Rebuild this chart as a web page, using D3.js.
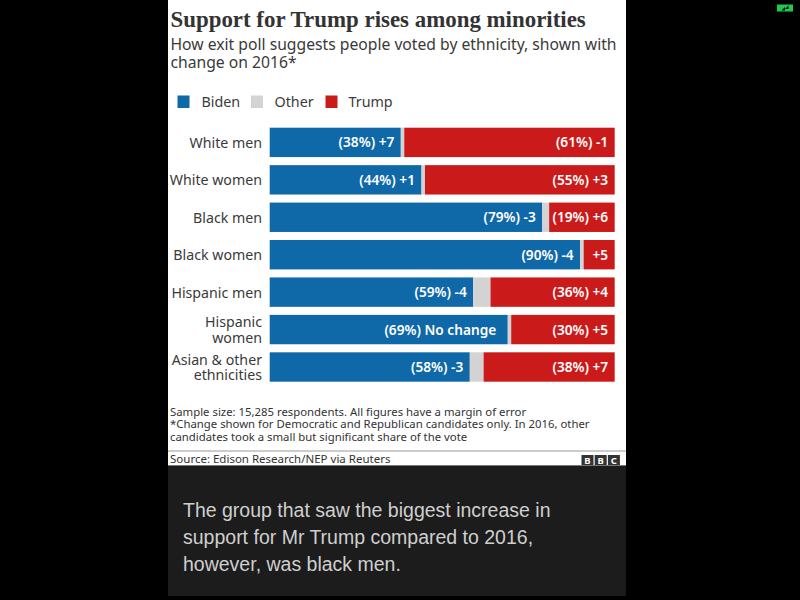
<!DOCTYPE html>
<html>
<head>
<meta charset="utf-8">
<style>
html,body{margin:0;padding:0;background:#000;}
svg{display:block;}
text{font-family:"Noto Sans",sans-serif;}
</style>
<script src="https://cdn.jsdelivr.net/npm/d3@7"></script>
</head>
<body>
<svg id="c" width="800" height="600"></svg>
<script>
const categories = [["White men"],["White women"],["Black men"],["Black women"],["Hispanic men"],["Hispanic","women"],["Asian & other","ethnicities"]];
const biden = [38,44,79,90,59,69,58];
const other = [1,1,2,1,5,1,4];
const trump = [61,55,19,9,36,30,38];
const bidenLabels = ["(38%) +7","(44%) +1","(79%) -3","(90%) -4","(59%) -4","(69%) No change","(58%) -3"];
const trumpLabels = ["(61%) -1","(55%) +3","(19%) +6","+5","(36%) +4","(30%) +5","(38%) +7"];
const seriesNames = ["Biden","Other","Trump"];
const seriesColors = ["#0f68a8","#d3d3d3","#cb1a1a"];
const subtitleLines = ["How exit poll suggests people voted by ethnicity, shown with","change on 2016*"];
const noteLines = ["Sample size: 15,285 respondents. All figures have a margin of error","*Change shown for Democratic and Republican candidates only. In 2016, other","candidates took a small but significant share of the vote"];
const captionLines = ["The group that saw the biggest increase in","support for Mr Trump compared to 2016,","however, was black men."];

const svg = d3.select("#c");
const ink = "#3a3a3a";
function block(xp, yp, lines, lh){
  const t = svg.append("text").attr("x",xp).attr("y",yp);
  t.selectAll("tspan").data(lines).join("tspan").attr("x",xp).attr("y",(d,i)=>yp+i*lh).text(d=>d);
  return t;
}
svg.append("rect").attr("x",168).attr("y",0).attr("width",458).attr("height",466).attr("fill","#fff");
svg.append("rect").attr("x",168).attr("y",466).attr("width",458).attr("height",130).attr("fill","#1c1c1c");

svg.append("text").attr("x",170.5).attr("y",26.5).attr("fill","#333")
  .style("font-family","'Liberation Serif',serif").style("font-weight",700).style("font-size","22.9px")
  .text("Support for Trump rises among minorities");
block(170.5,50,subtitleLines,17.5).attr("fill",ink).style("font-size","15.7px");

// legend
const lx = [177.5,251,325.5], ltx=[201.5,274.5,348.5];
seriesNames.forEach((n,i)=>{
  svg.append("rect").attr("x",lx[i]).attr("y",95.5).attr("width",12).attr("height",12.5).attr("fill",seriesColors[i]);
  svg.append("text").attr("x",ltx[i]).attr("y",107).attr("fill",ink).style("font-size","14.3px").text(n);
});

// chart
const rows = categories.map((c,i)=>({i,Biden:biden[i],Other:other[i],Trump:trump[i]}));
const x = d3.scaleLinear().domain([0,100]).range([269.7,614.7]);
const y = d3.scaleBand().domain(d3.range(categories.length)).range([127.7,381.7]).paddingInner(0.215).paddingOuter(0);
const stacked = d3.stack().keys(seriesNames)(rows);
svg.selectAll(".s").data(stacked).join("g").attr("class","s").attr("fill",(d,i)=>seriesColors[i])
  .selectAll("rect").data(d=>d).join("rect")
  .attr("x",d=>x(d[0])).attr("width",d=>x(d[1])-x(d[0]))
  .attr("y",d=>y(d.data.i)).attr("height",y.bandwidth());

const inset = 6.5;
rows.forEach((r,i)=>{
  const cy = y(i)+y.bandwidth()/2;
  const bi = bidenLabels[i].includes("No change") ? 11.5 : inset;
  svg.append("text").attr("x",x(r.Biden)-bi).attr("y",cy+5).attr("text-anchor","end")
    .attr("fill","#fff").style("font-size","13.7px").style("font-weight",600).text(bidenLabels[i]);
  svg.append("text").attr("x",x(100)-inset).attr("y",cy+5).attr("text-anchor","end")
    .attr("fill","#fff").style("font-size","13.7px").style("font-weight",600).text(trumpLabels[i]);
  const lines = categories[i];
  block(262, cy+5.5-(lines.length-1)/2*15.2, lines, 15.2)
    .attr("text-anchor","end").attr("fill",ink).style("font-size","14.2px");
});

// notes
block(170,416,noteLines,12.4).attr("fill","#333").style("font-size","11.35px");
svg.append("line").attr("x1",168).attr("x2",626).attr("y1",451).attr("y2",451).attr("stroke","#999").attr("stroke-width",1);
svg.append("text").attr("x",170).attr("y",463).attr("fill","#333").style("font-size","11.5px").text("Source: Edison Research/NEP via Reuters");
svg.append("line").attr("x1",168).attr("x2",626).attr("y1",465.5).attr("y2",465.5).attr("stroke","#777").attr("stroke-width",1);

// BBC blocks
["B","B","C"].forEach((l,i)=>{
  const bx = 581.5+i*13.2;
  svg.append("rect").attr("x",bx).attr("y",455).attr("width",12).attr("height",10).attr("fill","#333");
  svg.append("text").attr("x",bx+6).attr("y",463.5).attr("text-anchor","middle").attr("fill","#fff")
    .style("font-size","9.5px").style("font-weight",700).text(l);
});

// caption
block(183,517,captionLines,27).attr("fill","#cfcfcf")
  .style("font-family","'Liberation Sans',sans-serif").style("font-size","19.5px");

// status icon
svg.append("rect").attr("x",777).attr("y",4.5).attr("width",16).attr("height",7).attr("fill","#1fc94f");
svg.append("path").attr("d","M781.5 10.5 L785 7 L785 10.5 Z M788.5 5.5 L785 9 L788.5 9 Z").attr("fill","#000");
</script>
</body>
</html>
